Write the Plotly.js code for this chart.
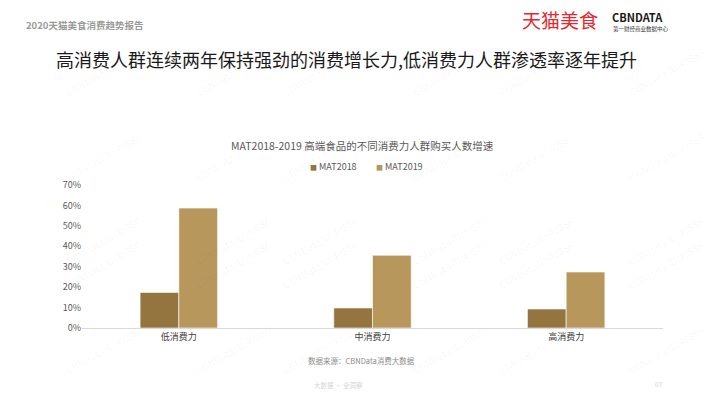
<!DOCTYPE html>
<html>
<head>
<meta charset="utf-8">
<script src="https://cdn.plot.ly/plotly-3.0.1.min.js"></script>
<style>html,body{margin:0;padding:0;background:#fff;}#chart{width:720px;height:405px;}</style>
</head>
<body>
<div id="chart"></div>
<script>
const categories = ['低消费力', '中消费力', '高消费力'];
const seriesNames = ['MAT2018', 'MAT2019'];
const seriesColors = ['#94753F', '#B8975D'];
const mat2018 = [0.174, 0.098, 0.093];
const mat2019 = [0.587, 0.356, 0.274];
const yTickVals = [0, 0.1, 0.2, 0.3, 0.4, 0.5, 0.6, 0.7];
const yTickText = ['0%', '10%', '20%', '30%', '40%', '50%', '60%', '70%'];

const FONT = '"Noto Sans CJK SC", "Noto Sans", sans-serif';

const traces = [
  {type: 'bar', name: seriesNames[0], x: categories, y: mat2018, showlegend: false,
   marker: {color: seriesColors[0], line: {color: '#ffffff', width: 0.6}}, hoverinfo: 'none'},
  {type: 'bar', name: seriesNames[1], x: categories, y: mat2019, showlegend: false,
   marker: {color: seriesColors[1], line: {color: '#ffffff', width: 0.6}}, hoverinfo: 'none'}
];

const annotations = [];

// Page decorations in pixel positions converted to paper coords
const L = 82, R = 57, T = 184.5, B = 77.3;
const W = 720 - L - R, H = 405 - T - B;
function px(x) { return (x - L) / W; }
function py(y) { return (405 - B - y) / H; }

const texts = [
  {t: '2020天猫美食消费趋势报告', x: 24, y: 24, s: 9.5, c: '#9a9a9a', xa: 'left', w: 'bold'},
  {t: '天猫美食', x: 520, y: 19, s: 19, c: '#E8262E', xa: 'left'},
  {t: '<b>CBNDATA</b>', x: 610, y: 16, s: 11, c: '#1a1a1a', xa: 'left'},
  {t: '第一财经商业数据中心', x: 611, y: 28, s: 5.5, c: '#333333', xa: 'left'},
  {t: '高消费人群连续两年保持强劲的消费增长力,低消费力人群渗透率逐年提升', x: 54, y: 58, s: 18, c: '#1a1a1a', xa: 'left'},
  {t: 'MAT2018-2019 高端食品的不同消费力人群购买人数增速', x: 362, y: 145, s: 10.5, c: '#595959', xa: 'center'},
  {t: '数据来源：CBNData消费大数据', x: 361, y: 360, s: 7.5, c: '#8c8c8c', xa: 'center'},
  {t: '大数据 · 全洞察', x: 338, y: 385, s: 6.5, c: '#d6d6d6', xa: 'center'},
  {t: '07', x: 659, y: 384, s: 6.5, c: '#d6d6d6', xa: 'center'}
];

// legend built from series names and colours
const legendX = [308, 374];
seriesNames.forEach((n, i) => texts.push({
  t: '<span style="color:' + seriesColors[i] + ';font-size:7px">■</span> ' + n,
  x: legendX[i], y: 166, s: 9, c: '#595959', xa: 'left'
}));

texts.forEach(o => annotations.push({
  text: o.t, x: px(o.x), y: py(o.y), xref: 'paper', yref: 'paper',
  xanchor: o.xa, yanchor: 'middle', showarrow: false,
  font: {family: FONT, size: o.s, color: o.c, weight: o.w === 'bold' ? 700 : 400}
}));

// faint watermarks
const wm = [];
for (let r = 0; r < 5; r++) {
  for (let c = 0; c < 6; c++) {
    wm.push([60 + c * 130, 40 + r * 85]);
  }
}
wm.forEach(p => annotations.push({
  text: 'CBNData ID:49886', x: px(p[0]), y: py(p[1]), xref: 'paper', yref: 'paper',
  showarrow: false, textangle: -30,
  font: {family: FONT, size: 10, color: 'rgba(0,0,0,0.045)'}
}));

const layout = {
  width: 720, height: 405,
  margin: {l: L, r: R, t: T, b: B, pad: 0},
  paper_bgcolor: '#ffffff', plot_bgcolor: '#ffffff',
  font: {family: FONT, color: '#595959'},
  barmode: 'group', bargap: 0.6, bargroupgap: 0,
  showlegend: false,
  xaxis: {showgrid: false, zeroline: false, showline: true, linecolor: '#d9d9d9', linewidth: 1,
          ticks: '', tickfont: {size: 9, color: '#404040', family: FONT}, fixedrange: true},
  yaxis: {range: [0, 0.7], tickvals: yTickVals, ticktext: yTickText, showgrid: false,
          zeroline: false, showline: false, ticks: '', ticklen: 0,
          tickfont: {size: 9, color: '#595959', family: FONT}, fixedrange: true},
  annotations: annotations
};

Plotly.newPlot('chart', traces, layout, {displayModeBar: false, staticPlot: true});
</script>
</body>
</html>
